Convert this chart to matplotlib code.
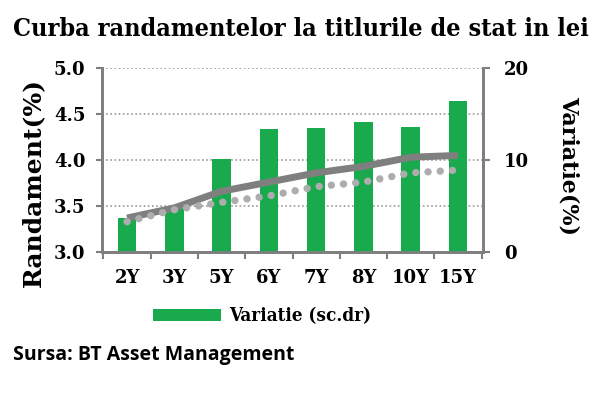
import numpy as np
import matplotlib
matplotlib.use('Agg')
import matplotlib.pyplot as plt
from matplotlib.patches import Patch

maturitati = ['2Y', '3Y', '5Y', '6Y', '7Y', '8Y', '10Y', '15Y']
randament = [3.37, 3.48, 3.66, 3.76, 3.86, 3.93, 4.03, 4.05]
randament_ant = [3.33, 3.46, 3.54, 3.61, 3.71, 3.76, 3.86, 3.89]
variatie = [3.7, 4.8, 10.1, 13.4, 13.5, 14.1, 13.6, 16.4]

verde = '#19aa4e'
gri = '#7f7f7f'
serif = 'DejaVu Serif'

fig = plt.figure(figsize=(6.0, 4.04), dpi=100)
ax = fig.add_axes([0.17, 0.376, 0.635, 0.456])
ax2 = ax.twinx()
ax.set_zorder(ax2.get_zorder() + 1)
ax.patch.set_visible(False)

x = np.arange(len(maturitati))
ax2.bar(x, variatie, width=0.39, color=verde, zorder=3)
ax.plot(x, randament, '-', lw=5, color=gri, solid_capstyle='butt')
ax.plot(x, randament_ant, linestyle=(0, (0.01, 1.65)), lw=5.3, color='#adadad',
        dash_capstyle='round')

ax.set_xlim(-0.53, len(maturitati) - 0.47)
ax.set_ylim(3.0, 5.0)
ax2.set_ylim(0, 20)

ax.set_yticks([3.0, 3.5, 4.0, 4.5, 5.0])
ax.set_yticklabels(['3.0', '3.5', '4.0', '4.5', '5.0'])
ax2.set_yticks([0, 10, 20])
ax2.set_yticks([5, 15], minor=True)
ax2.grid(True, which='both', axis='y', linestyle=(0, (1, 1.5)), color='#9a9a9a', lw=1.2, zorder=0)
ax2.set_axisbelow(True)

ax.set_xticks(x)
ax.set_xticklabels(maturitati)
ax.set_xticks(np.arange(len(maturitati) + 1) - 0.5, minor=True)
ax.tick_params(axis='x', which='major', length=0, pad=12)
ax.tick_params(axis='x', which='minor', length=5, width=1.5, color=gri, direction='out')
ax.tick_params(axis='y', length=4, width=1.5, color=gri, pad=8)
ax2.tick_params(axis='y', which='major', length=5, width=1.5, color=gri, pad=10)
ax2.tick_params(axis='y', which='minor', length=0)

for a in (ax, ax2):
    a.spines['top'].set_visible(False)
    for s in ('left', 'right', 'bottom'):
        a.spines[s].set_color(gri)
        a.spines[s].set_linewidth(2)
    for lab in a.get_xticklabels() + a.get_yticklabels():
        lab.set_fontfamily(serif)
        lab.set_fontweight('bold')
        lab.set_fontsize(13)

ax.set_ylabel('Randament(%)', fontsize=18, fontweight='bold', family=serif)
ax.yaxis.set_label_coords(-0.15, 0.38)
ax2.set_ylabel('Variatie(%)', fontsize=16, fontweight='bold', family=serif, rotation=-90,
               va='center')
ax2.yaxis.set_label_coords(1.225, 0.47)

fig.text(0.022, 0.912, 'Curba randamentelor la titlurile de stat in lei',
         fontsize=18.1, fontweight='black', family=serif, fontstretch='condensed',
         va='baseline')

handles = [Patch(facecolor=verde, label='Variatie (sc.dr)')]
fig.legend(handles=handles, loc='center', bbox_to_anchor=(0.437, 0.217), frameon=False,
           handlelength=3.6, handleheight=0.6, handletextpad=0.45,
           prop={'family': serif, 'weight': 'bold', 'size': 13.5, 'stretch': 'condensed'})

fig.text(0.022, 0.108, 'Sursa: BT Asset Management', fontsize=14, fontweight='bold',
         family='Open Sans', va='baseline')

fig.savefig('out.png', dpi=100, facecolor='white')
